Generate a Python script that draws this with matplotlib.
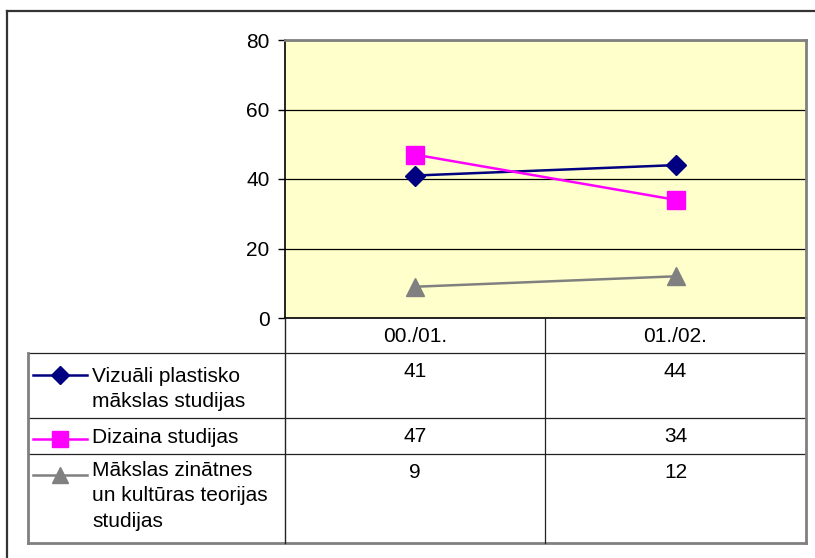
import matplotlib.pyplot as plt
from matplotlib.lines import Line2D

plt.rcParams['font.family'] = ['Liberation Sans', 'DejaVu Sans']

# data
periods = ["00./01.", "01./02."]
series_names = ["Vizuāli plastisko\nmākslas studijas",
                "Dizaina studijas",
                "Mākslas zinātnes\nun kultūras teorijas\nstudijas"]
vizuali = [41, 44]
dizains = [47, 34]
teorija = [9, 12]
y_ticks = [0, 20, 40, 60, 80]

values = [vizuali, dizains, teorija]
colors = ["#000080", "#FF00FF", "#808080"]
markers = ["D", "s", "^"]
msizes = [10, 13, 13]
FS = 15

W, H = 815, 558
fig = plt.figure(figsize=(W / 100, H / 100), dpi=100)
fig.patch.set_facecolor("white")

# outer chart frame (only top and left visible)
fig.add_artist(Line2D([7 / W, 7 / W], [0, 1 - 11 / H], color="#333333", lw=1.6))
fig.add_artist(Line2D([7 / W, 1], [1 - 11 / H, 1 - 11 / H], color="#333333", lw=1.6))

#############################################################################
# Plot area
#############################################################################
ax = fig.add_axes([285 / W, 1 - 318 / H, 521 / W, 278 / H])
ax.set_facecolor("#FFFFCC")
x = range(len(periods))
for vals, c, m, ms in zip(values, colors, markers, msizes):
    ax.plot(x, vals, color=c, lw=1.8, marker=m, markersize=ms,
            markerfacecolor=c, markeredgecolor=c, zorder=3)

ax.set_xlim(-0.5, len(periods) - 0.5)
ax.set_ylim(0, 80)
ax.set_yticks(y_ticks)
ax.set_yticklabels([str(t) for t in y_ticks], fontsize=FS)
ax.tick_params(axis="y", direction="out", length=5, width=1, pad=6)
ax.set_xticks([])
ax.yaxis.grid(True, color="black", lw=0.9)
ax.set_axisbelow(True)
for s in ["left", "bottom"]:
    ax.spines[s].set_color("black")
    ax.spines[s].set_linewidth(1.2)
for s in ["top", "right"]:
    ax.spines[s].set_color("#808080")
    ax.spines[s].set_linewidth(2)

#############################################################################
# Data table
#############################################################################
tb = fig.add_axes([28 / W, 1 - 543 / H, 778 / W, 225 / H])
tb.set_xlim(0, 778)
tb.set_ylim(225, 0)
tb.axis("off")

col_edges = [0, 257, 517, 778]
row_edges = [0, 35, 100, 136, 225]
label_off = [14, 10, 7]
marker_off = [22, 21, 21]
dark = "#222222"
gray = "#808080"

for yy in row_edges[1:4]:
    tb.plot([0, 778], [yy, yy], color=dark, lw=0.9, clip_on=False)
tb.plot([0, 778], [225, 225], color=gray, lw=2, clip_on=False)
tb.plot([0, 0], [35, 225], color=gray, lw=2, clip_on=False)
tb.plot([257, 257], [0, 225], color=dark, lw=1, clip_on=False)
tb.plot([517, 517], [0, 225], color=dark, lw=0.9, clip_on=False)
tb.plot([778, 778], [0, 225], color=gray, lw=2, clip_on=False)

# header row
for j, p in enumerate(periods):
    xc = (col_edges[j + 1] + col_edges[j + 2]) / 2
    tb.text(xc, 18, p, ha="center", va="center", fontsize=FS)

# series rows
for i, (name, vals, c, m, ms) in enumerate(zip(series_names, values, colors, markers, msizes)):
    top = row_edges[i + 1]
    tb.text(64, top + label_off[i], name, ha="left", va="top", fontsize=FS, linespacing=1.42)
    my = top + marker_off[i]
    tb.plot([5, 59], [my, my], color=c, lw=1.8, clip_on=False)
    tb.plot([32], [my], color=c, marker=m, markersize=ms * 0.9,
            markeredgecolor=c, clip_on=False)
    for j, v in enumerate(vals):
        xc = (col_edges[j + 1] + col_edges[j + 2]) / 2
        tb.text(xc, top + 9, str(v), ha="center", va="top", fontsize=FS)

plt.savefig("out.png", dpi=100)
